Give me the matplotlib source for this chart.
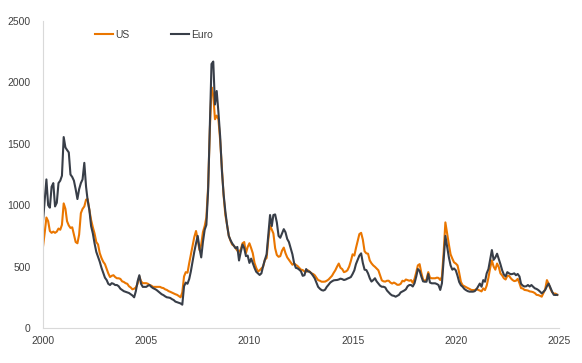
import pandas as pd
import matplotlib
matplotlib.use("Agg")
import matplotlib.pyplot as plt
import matplotlib.dates as mdates

# monthly spread levels, Jan 2000 - Dec 2024, one row per year
us = [
    662, 780, 900, 870, 790, 775, 785, 775, 785, 810, 800, 840,
    1015, 970, 870, 835, 815, 820, 760, 700, 690, 760, 935, 970,
    990, 1045, 1050, 960, 880, 820, 770, 700, 680, 610, 570, 540,
    520, 480, 445, 415, 425, 430, 415, 405, 405, 400, 380, 375,
    365, 360, 340, 330, 315, 320, 330, 360, 420, 380, 365, 365,
    365, 360, 350, 345, 335, 335, 335, 335, 335, 328, 325, 315,
    310, 300, 295, 288, 282, 275, 270, 260, 250, 290, 420, 455,
    450, 530, 595, 670, 740, 790, 720, 635, 680, 780, 830, 900,
    1150, 1620, 1960, 1900, 1700, 1730, 1700, 1530, 1300, 1080, 920, 840,
    750, 710, 680, 670, 650, 630, 620, 640, 690, 700, 610, 660,
    690, 650, 610, 530, 490, 460, 470, 485, 500, 555, 570, 720,
    835, 800, 770, 650, 595, 580, 585, 630, 655, 610, 575, 555,
    535, 515, 525, 515, 505, 490, 475, 472, 460, 458, 470, 460,
    445, 440, 430, 410, 390, 385, 377, 377, 378, 385, 395, 410,
    425, 450, 470, 500, 525, 490, 480, 455, 460, 470, 500, 545,
    600, 590, 650, 710, 765, 775, 720, 625, 608, 605, 550, 527,
    510, 498, 485, 470, 430, 388, 380, 378, 385, 385, 370, 362,
    370, 362, 352, 352, 360, 385, 380, 395, 390, 385, 390, 368,
    400, 455, 510, 520, 450, 395, 382, 395, 455, 410, 405, 405,
    405, 410, 408, 391, 418, 620, 860, 770, 680, 600, 565, 535,
    525, 510, 450, 375, 348, 340, 332, 325, 318, 310, 309, 309,
    318, 310, 305, 298, 323, 309, 345, 410, 490, 550, 500, 475,
    525, 495, 445, 428, 405, 395, 425, 425, 405, 391, 382, 385,
    400, 365, 325, 322, 310, 308, 305, 298, 296, 292, 284, 270,
    268, 262, 255, 285, 315, 390, 360, 320, 292, 280, 280, 270,
]

euro = [
    870, 1050, 1210, 1000, 980, 1150, 1180, 990, 1020, 1180, 1200, 1240,
    1555, 1470, 1450, 1430, 1250, 1230, 1200, 1130, 1050, 1130, 1180, 1210,
    1345, 1150, 1040, 960, 830, 770, 690, 620, 580, 540, 490, 450,
    410, 390, 360, 350, 365, 360, 350, 350, 340, 320, 310, 300,
    295, 290, 285, 275, 265, 250, 300, 380, 430, 360, 335, 335,
    335, 345, 350, 335, 325, 318, 310, 298, 285, 275, 268, 258,
    250, 248, 245, 235, 228, 215, 210, 205, 200, 190, 340, 370,
    360, 400, 460, 540, 620, 690, 750, 650, 575, 700, 800, 840,
    1120, 1650, 2150, 2170, 1820, 1930, 1760, 1560, 1280, 1090, 950, 840,
    750, 715, 690, 670, 650, 660, 550, 620, 680, 650, 585, 590,
    530, 565, 530, 490, 458, 445, 432, 445, 505, 555, 600, 760,
    920, 830, 920, 925, 860, 750, 735, 770, 805, 780, 725, 700,
    650, 600, 530, 490, 486, 475, 462, 425, 430, 480, 460, 458,
    445, 425, 405, 370, 335, 320, 309, 305, 312, 335, 352, 370,
    380, 388, 390, 391, 395, 402, 398, 391, 395, 402, 408, 415,
    440, 470, 520, 555, 590, 608, 530, 475, 472, 445, 405, 378,
    390, 405, 380, 362, 345, 336, 336, 330, 305, 290, 275, 265,
    262, 255, 262, 270, 290, 298, 305, 315, 340, 350, 350, 338,
    365, 420, 480, 465, 420, 380, 377, 377, 440, 370, 364, 364,
    364, 358, 350, 310, 364, 560, 750, 660, 575, 510, 475, 485,
    470, 425, 375, 348, 336, 318, 308, 300, 296, 296, 296, 300,
    315, 340, 362, 336, 390, 377, 445, 480, 560, 635, 555, 575,
    605, 560, 520, 470, 435, 420, 455, 445, 438, 440, 445, 430,
    440, 420, 360, 345, 338, 340, 350, 338, 350, 336, 323, 318,
    309, 296, 282, 295, 310, 340, 362, 330, 295, 270, 269, 270,
]

dates = pd.date_range("2000-01-01", periods=len(us), freq="MS")
y_ticks = [0, 500, 1000, 1500, 2000, 2500]

plt.rcParams["font.family"] = ["Liberation Sans", "DejaVu Sans"]

fig = plt.figure(figsize=(5.82, 3.63), dpi=100)
ax = fig.add_axes([0.0739, 0.0964, 0.8866, 0.8457])

ax.plot(dates, us, color="#EA7600", lw=1.5, label="US")
ax.plot(dates, euro, color="#383E48", lw=1.5, label="Euro")

ax.set_xlim(pd.Timestamp("2000-01-01"), pd.Timestamp("2025-01-01"))
ax.set_ylim(0, 2500)
ax.set_yticks(y_ticks)
ax.xaxis.set_major_locator(mdates.YearLocator(5))
ax.xaxis.set_major_formatter(mdates.DateFormatter("%Y"))

for side in ["top", "right"]:
    ax.spines[side].set_visible(False)
for side in ["left", "bottom"]:
    ax.spines[side].set_color("#d9d9d9")
    ax.spines[side].set_linewidth(0.8)

ax.tick_params(axis="both", length=0, labelsize=7.5, labelcolor="#404040")
ax.tick_params(axis="y", pad=9)
ax.tick_params(axis="x", pad=6)

leg = ax.legend(loc="center", bbox_to_anchor=(0.215, 0.955), ncol=2,
                frameon=False, fontsize=7.5, handlelength=1.7,
                handletextpad=0.2, columnspacing=4.0)
for t in leg.get_texts():
    t.set_color("#404040")

fig.savefig("out.png", dpi=100)
